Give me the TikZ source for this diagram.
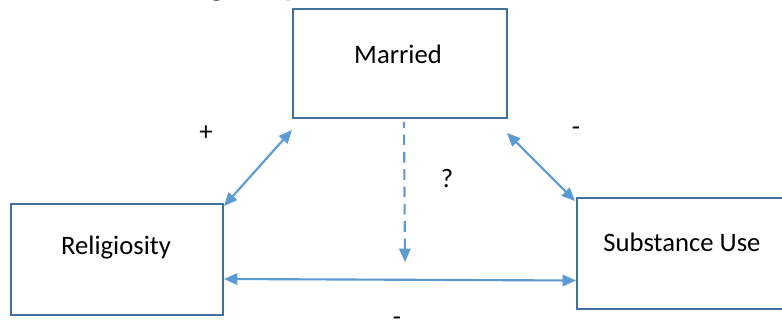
\documentclass[tikz,border=0pt]{standalone}
\usepackage{fontspec}
\setmainfont{Carlito}
\usetikzlibrary{arrows.meta,calc,positioning}
\definecolor{boxblue}{HTML}{41719C}
\definecolor{linkblue}{HTML}{5B9BD5}

\begin{document}
\begin{tikzpicture}
[
	               x = 0.75pt,
	               y = -0.75pt,
	              >= {Triangle[length=10pt,width=8.5pt]},
	   factor/.style = { draw=boxblue, line width=1.5pt, rectangle, inner sep=0pt },
	 boxtext/.style = { font=\fontsize{20}{24}\selectfont, inner sep=0pt, anchor=base },
	     link/.style = { draw=linkblue, line width=1.6pt, <->, >= {Triangle[length=10pt,width=8.5pt]}, color=linkblue },
	  dashlink/.style = { link, <-, dash pattern=on 8pt off 5pt },
	     sign/.style = { font=\fontsize{20}{24}\selectfont, inner sep=0pt }
]
	\useasboundingbox (0,0) rectangle (782,327);

	% heading, cut off at the top edge
	\node (heading) at (158,-4) [anchor=base west, inner sep=0pt, font=\fontsize{24.75}{30}\selectfont\bfseries] {Religiosity};

	\node (married) at (400,63.5)  [factor, minimum width=160.5pt, minimum height=81.75pt] {};
	\node (relig)   at (117,259.5) [factor, minimum width=159pt,   minimum height=83.25pt] {};
	\node (subst)   at (682,253.5) [factor, minimum width=157.5pt, minimum height=83.25pt] {};

	\node (marriedtxt) at ($(married.center)+(-2,0)$) [boxtext] {Married};
	\node (religtxt)   at ($(relig.center)+(-1,-4.5)$) [boxtext] {Religiosity};
	\node (substtxt)   at ($(subst.center)+(0,-1.5)$)  [boxtext] {Substance Use};

	\coordinate (mod) at (405,262);

	\draw [link] ($(relig.north east)+(0,3)$) -- ($(married.south west)+(0,11)$);
	\draw [link] ($(married.south east)+(-1,14)$) -- ($(subst.north west)+(-1,4)$);
	\draw [link] ($(relig.east)+(0,19.5)$) -- ($(subst.west)+(0,27)$);
	\draw [dashlink] (mod) -- ($(married.south)+(4,3)$);

	\node (plus)  at (206,133) [sign] {+};
	\node (minA)  at (576,131) [sign] {-};
	\node (quest) at (447,178) [sign] {?};
	\node (minB)  at (397,321) [sign] {-};

\end{tikzpicture}
\end{document}
